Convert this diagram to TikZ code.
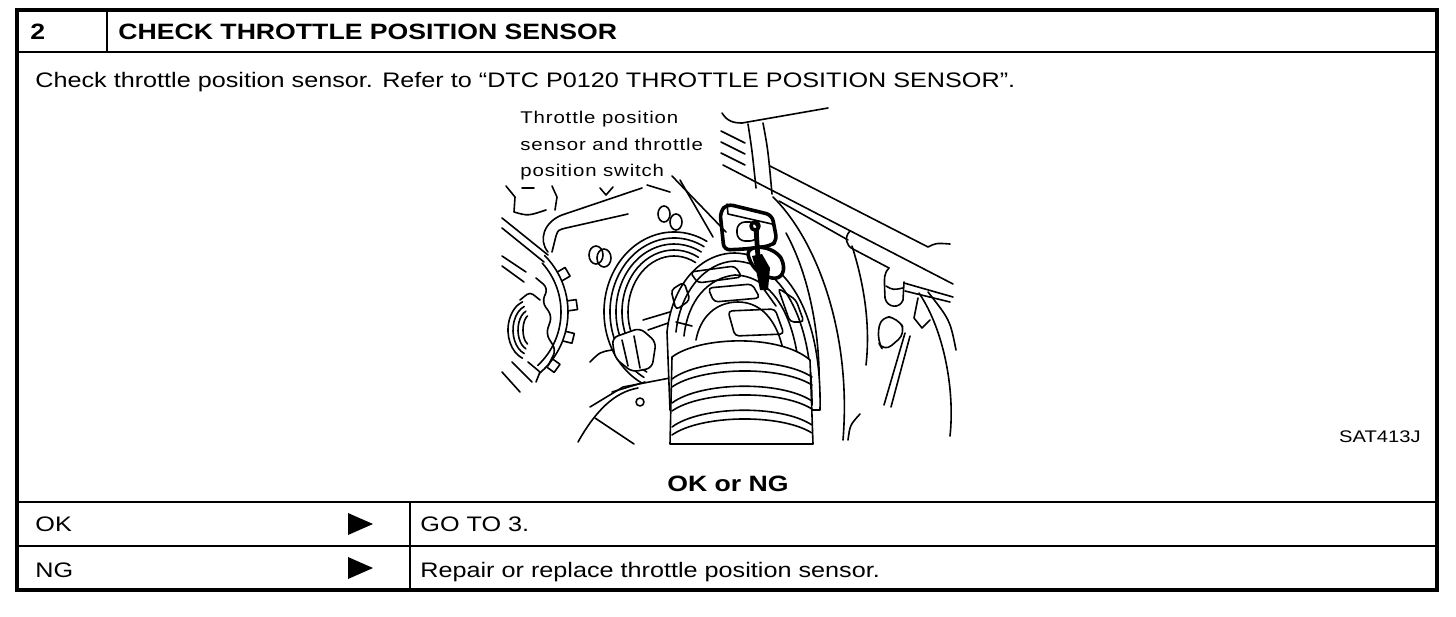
\documentclass[tikz,border=0pt]{standalone}
\usepackage{fontspec}
\setmainfont{Liberation Sans}[FakeStretch=1.2]
\newfontfamily\calloutfont{Liberation Sans}[FakeStretch=1.2,LetterSpace=5]
\tikzset{
  frame/.style={line width=1.6pt},
  rule/.style={line width=1pt},
  part/.style={line width=0.8pt,line cap=round,line join=round},
  heavy/.style={line width=1.8pt,line cap=round,line join=round},
  txt/.style={anchor=base west,inner sep=0pt,font=\fontsize{10.5}{12}\selectfont},
  head/.style={anchor=base west,inner sep=0pt,font=\fontsize{11.1}{13}\selectfont\bfseries},
}
\begin{document}
\begin{tikzpicture}[x=0.5pt,y=-0.5pt]
\useasboundingbox (0,0) rectangle (1456,616);
% table
\draw[frame] (17,10) rectangle (1437,590);
\draw[rule] (17,52) -- (1437,52);
\draw[rule] (107,10) -- (107,52);
\draw[rule] (17,502) -- (1437,502);
\draw[rule] (17,546) -- (1437,546);
\draw[line width=0.7pt] (410,502) -- (410,590);
\node[head] (num) at (30,39) {2};
\node[head] (title) at (118,39) {CHECK THROTTLE POSITION SENSOR};
\node[txt] (check) at (35,87) {Check throttle position sensor. Refer to “DTC P0120 THROTTLE POSITION SENSOR”.};
\node[head,anchor=base] (okng) at (728,491) {OK or NG};
\node[txt,anchor=base east,font=\fontsize{8.4}{10}\selectfont] (fig) at (1421,442) {SAT413J};
\node[txt] (ok) at (35,531) {OK};
\node[txt] (ng) at (35,577) {NG};
\node[txt] (goto) at (420,531) {GO TO 3.};
\node[txt] (fix) at (420,577) {Repair or replace throttle position sensor.};
\foreach \y in {524,568}
  \fill (348,\y-11) -- (373,\y) -- (348,\y+11) -- cycle;
% illustration: left side
\draw[part] (488,312) ++(-45:80) arc[start angle=-45,end angle=50,radius=80];
\draw[part] (488,312) ++(-42:73) arc[start angle=-42,end angle=47,radius=73];
\foreach \a in {-30,-8,14,36}
  \draw[part] (488,312) ++(\a:80) -- ++(\a:9) -- ++({\a+90}:10) -- ++({\a+180}:9);
\foreach \r in {7,12,17,22}
  \draw[part] (530,330) ++(110:{\r} and {\r+8}) arc[start angle=110,end angle=250,x radius=\r,y radius=\r+8];
\draw[part,rounded corners=3] (536,278) -- (548,288) -- (542,302) -- (552,316) -- (546,334) -- (556,350) -- (548,366);
\draw[part,rounded corners=2] (520,300) -- (530,292) -- (540,300);
\draw[part] (528,362) -- (540,372) -- (536,382);
\draw[part] (502,218) -- (548,255);
\draw[part] (502,228) -- (544,262);
\draw[part] (502,256) -- (526,272);
\draw[part] (502,266) -- (524,282);
\draw[part] (512,362) -- (532,382);
\draw[part] (502,372) -- (520,392);
\draw[part] (506,186) -- (515,197) -- (514,212) .. controls (528,216) .. (546,210);
\draw[part] (522,188) -- (534,188);
\draw[part] (552,186) -- (557,197) -- (555,210);
\draw[part] (600,188) -- (606,195) -- (613,187);
\draw[part] (647,185) -- (670,192);
\draw[part] (548,252) .. controls (538,240) and (544,222) .. (562,215) -- (642,188);
\draw[part] (552,252) -- (556,236) .. controls (558,230) .. (566,228) -- (628,214);
\draw[part] (596,255) ellipse (7 and 9);
\draw[part] (604,258) ellipse (7 and 9);
\draw[part] (664,214) ellipse (6 and 8);
\draw[part] (676,222) ellipse (6 and 8);
% throttle body
\foreach \rx/\ry in {70/80,64/74,58/68,52/62,46/56}
  \draw[part] (674,312) ++(118:{\rx} and {\ry}) arc[start angle=118,end angle=298,x radius=\rx,y radius=\ry];
\draw[part] (643,320) -- (690,306) -- (694,314) -- (648,330);
\draw[part,fill=white,rounded corners=3] (612,338) -- (640,328) -- (656,342) -- (652,368) -- (632,372) -- (615,358) -- cycle;
\draw[part] (622,340) -- (628,366);
\draw[part] (634,336) -- (640,368);
\draw[part] (590,362) .. controls (600,352) .. (612,350);
\draw[part] (578,442) .. controls (596,410) and (615,392) .. (638,388);
\draw[part] (590,407) -- (623,387) -- (670,378);
\draw[part] (595,418) -- (634,444);
\draw[part] (612,392) -- (645,382);
\draw[part] (640,402) circle (4);
\draw[part] (680,180) -- (713,237);
% right side
\draw[part] (722,113) .. controls (727,121) and (733,123) .. (742,123) -- (828,108);
\draw[part] (748,124) .. controls (752,150) .. (756,188);
\draw[part] (763,123) .. controls (768,150) .. (772,194);
\foreach \d in {0,11,22}
  \draw[part] (721,131+\d) -- (745,143+\d);
\draw[part] (723,165) -- (953,284);
\draw[part] (770,166) -- (928,247) .. controls (936,243) .. (950,244);
\draw[part] (779,201) -- (848,240);
\draw[part] (850,231) .. controls (844,237) and (846,246) .. (853,249) -- (889,268);
\draw[part] (889,268) .. controls (884,274) .. (885,298) .. controls (887,308) and (900,309) .. (903,300) -- (904,282);
\draw[part] (886,286) .. controls (893,290) .. (903,288);
\draw[part] (904,283) -- (953,297);
\draw[part] (905,291) -- (950,302);
\draw[part] (918,298) -- (914,318) -- (922,328) -- (930,320);
\draw[part,rounded corners=5] (881,316) -- (877,340) -- (884,352) -- (906,333) -- (898,318) -- cycle;
\draw[part] (905,333) -- (884,405);
\draw[part] (910,336) -- (891,407);
\draw[part] (919,293) .. controls (944,330) and (955,390) .. (950,436);
\draw[part] (928,292) .. controls (950,320) .. (956,350);
\draw[part] (773,197) .. controls (815,238) and (852,330) .. (843,440);
\draw[part] (786,233) .. controls (812,280) and (823,350) .. (818,408);
\draw[part] (852,246) .. controls (866,290) and (870,330) .. (866,365);
\draw[part] (848,440) .. controls (850,425) .. (860,414);
% intake duct cage
\draw[part,fill=white] (667,332) .. controls (672,285) and (700,253) .. (735,253) .. controls (785,255) and (822,310) .. (820,410) -- (670,410) -- cycle;
\draw[part] (676,332) .. controls (680,292) and (705,262) .. (735,261) .. controls (780,263) and (812,315) .. (812,405);
\draw[part] (684,336) .. controls (688,300) and (708,278) .. (735,275) .. controls (770,276) and (796,312) .. (800,380);
\draw[part] (696,340) .. controls (700,318) and (715,302) .. (738,302) .. controls (762,302) and (782,322) .. (786,370);
\draw[part,rounded corners=2] (690,272) -- (735,266) -- (742,277) -- (698,283) -- cycle;
\draw[part,rounded corners=2] (708,288) -- (752,284) -- (760,298) -- (714,302) -- cycle;
\draw[part,rounded corners=2] (728,311) -- (775,309) -- (784,334) -- (735,336) -- cycle;
\draw[part,rounded corners=2] (671,290) -- (684,282) -- (690,300) -- (676,310) -- cycle;
\draw[part,rounded corners=2] (778,288) -- (796,300) -- (804,322) -- (790,322) -- cycle;
\draw[part] (676,322) -- (692,326);
% bellows
\draw[part,fill=white] (672,357) .. controls (700,336) and (780,334) .. (810,360) -- (813,444) -- (670,444) -- cycle;
\foreach \k in {0,1,2}
  {\draw[part] (672,{379+24*\k}) .. controls (700,{358+24*\k}) and (780,{356+24*\k}) .. (812,{377+24*\k});
   \draw[part] (672,{387+24*\k}) .. controls (700,{367+24*\k}) and (780,{365+24*\k}) .. (812,{385+24*\k});}
% sensor
\draw[heavy,fill=white,rounded corners=3] (720,212) -- (727,204) -- (772,215) -- (777,241) -- (770,246) -- (745,249) -- (724,250) -- cycle;
\draw[part] (727,204) -- (728,214) -- (772,224);
\draw[part,rounded corners=4] (737,222) rectangle (758,241);
\draw[heavy] (755,226) circle (4);
\draw[heavy,fill=white] (748,254) .. controls (748,244) and (772,245) .. (781,258) .. controls (787,270) and (782,280) .. (772,278) .. controls (760,276) and (750,266) .. (748,254) -- cycle;
\fill (752,256) -- (762,254) -- (770,268) -- (768,290) -- (760,290) -- (756,270) -- cycle;
\draw[line width=2.4pt] (756,228) -- (758,258);
\draw[part] (763,288) -- (776,306);
% callout
\node[anchor=north west,inner sep=0pt,align=left,font=\calloutfont\fontsize{8.5}{13.25}\selectfont] (tpslabel) at (520,111) {Throttle position\\sensor and throttle\\position switch};
\coordinate (ldr) at (672,176);
\coordinate (tps) at (726,232);
\draw[part] (ldr) -- (tps);
\end{tikzpicture}
\end{document}
